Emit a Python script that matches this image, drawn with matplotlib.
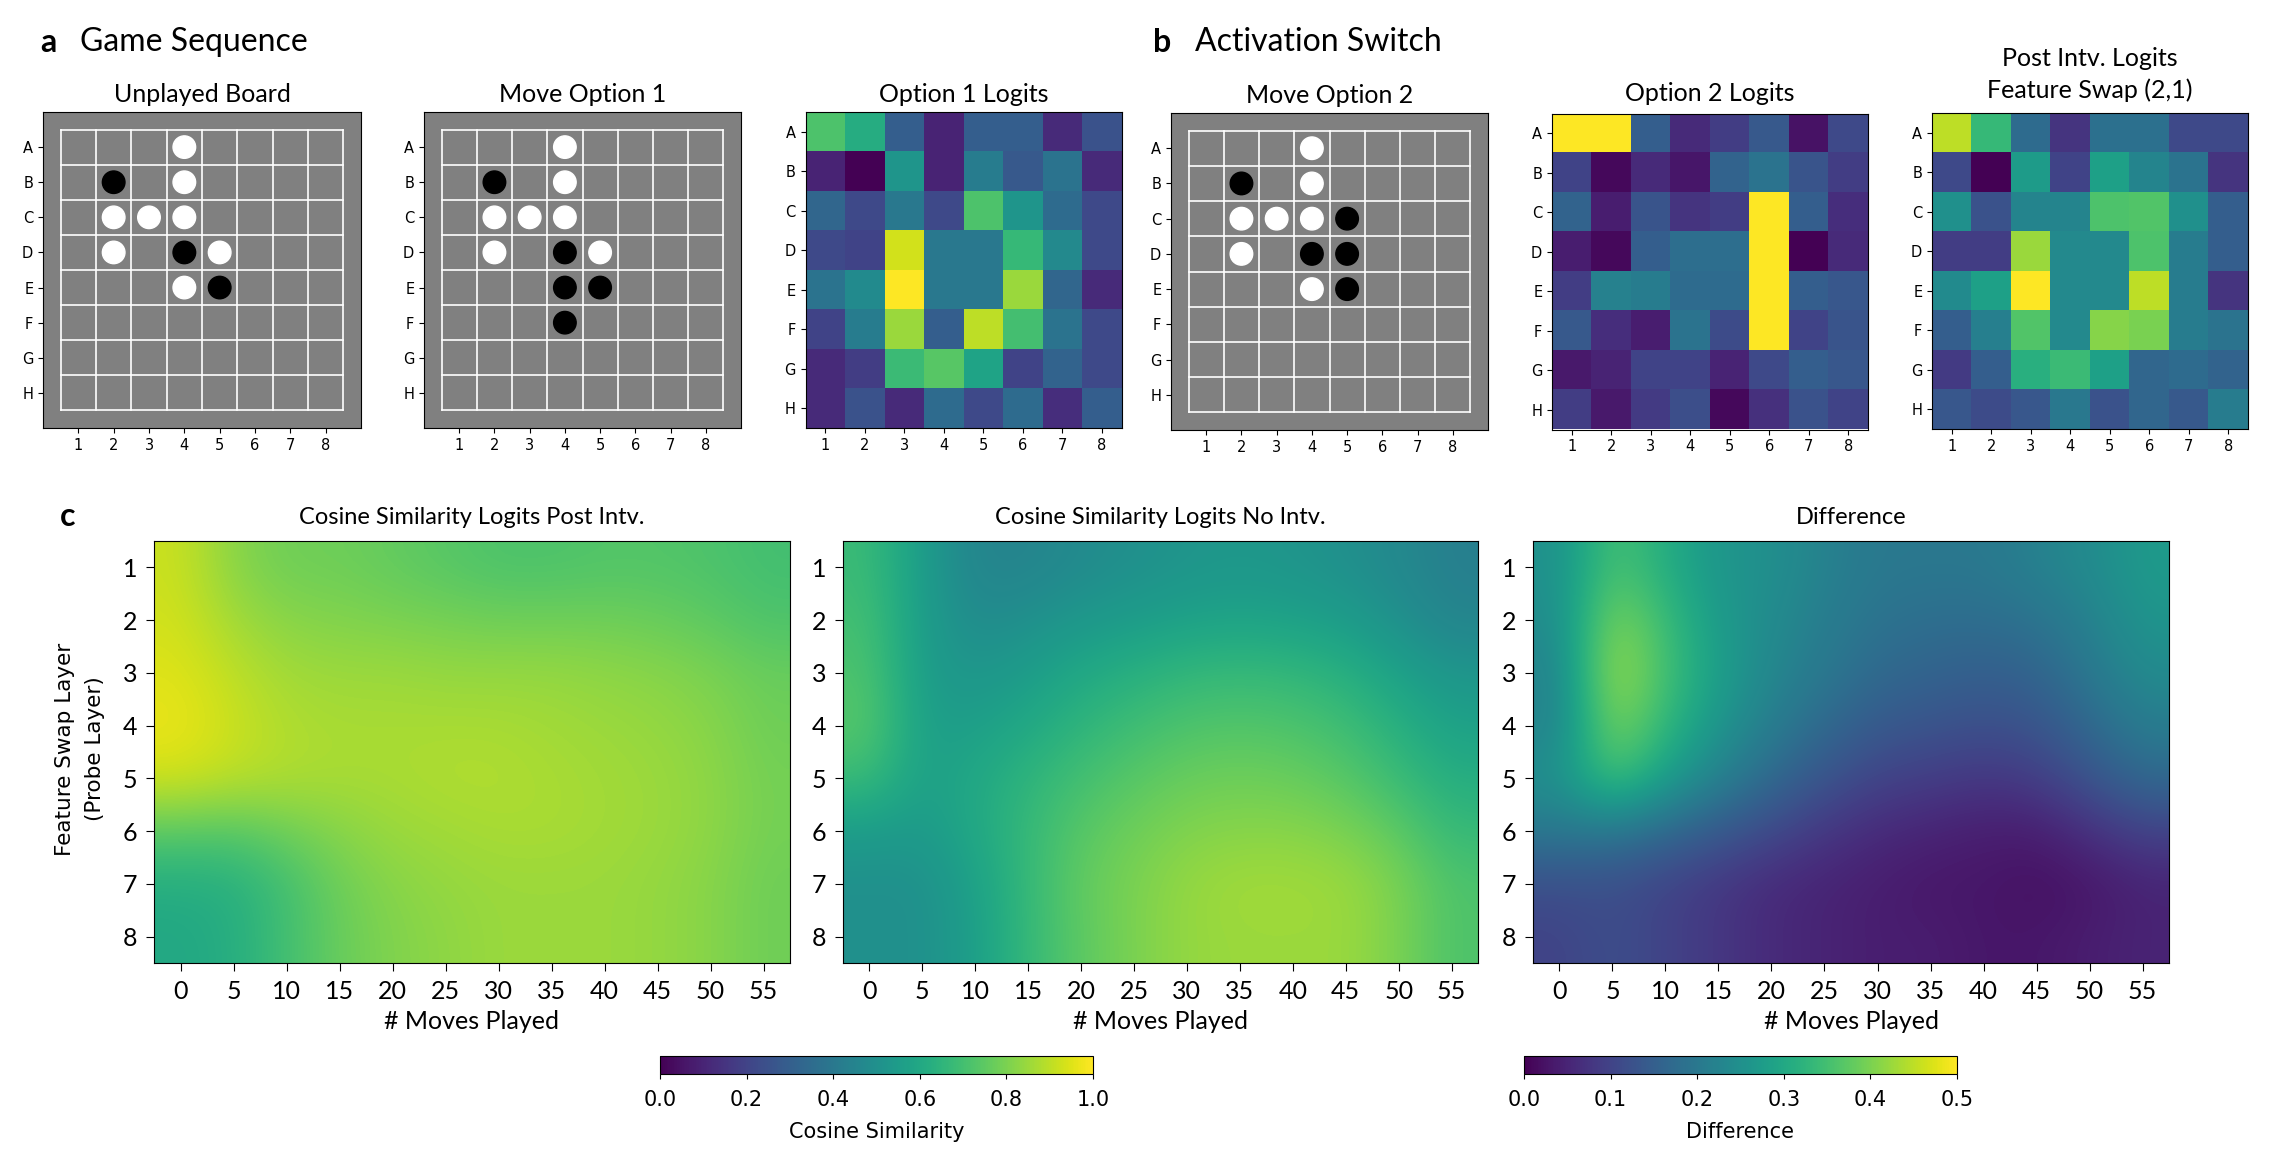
import numpy as np
import matplotlib.pyplot as plt
from matplotlib.patches import Circle

W, H = 2281, 1153
TFONT = ['Lato', 'DejaVu Sans']

rows = list("ABCDEFGH")
cols = ["1", "2", "3", "4", "5", "6", "7", "8"]

# board states
unplayed_white = ["A4", "B4", "C2", "C3", "C4", "D2", "D5", "E4"]
unplayed_black = ["B2", "D4", "E5"]
opt1_white = ["A4", "B4", "C2", "C3", "C4", "D2", "D5"]
opt1_black = ["B2", "D4", "E4", "E5", "F4"]
opt2_white = ["A4", "B4", "C2", "C3", "C4", "D2", "E4"]
opt2_black = ["B2", "C5", "D4", "D5", "E5"]

# normalised logits, rows A-H, cols 1-8
opt1_logits = [
    [0.72, 0.62, 0.30, 0.10, 0.30, 0.30, 0.12, 0.25],
    [0.10, 0.00, 0.52, 0.10, 0.42, 0.28, 0.38, 0.12],
    [0.33, 0.22, 0.40, 0.22, 0.72, 0.52, 0.35, 0.22],
    [0.22, 0.20, 0.93, 0.40, 0.40, 0.67, 0.47, 0.22],
    [0.38, 0.48, 1.00, 0.40, 0.40, 0.85, 0.33, 0.12],
    [0.20, 0.42, 0.85, 0.30, 0.90, 0.70, 0.38, 0.22],
    [0.12, 0.18, 0.68, 0.74, 0.58, 0.20, 0.32, 0.22],
    [0.12, 0.25, 0.12, 0.35, 0.22, 0.35, 0.13, 0.30],
]
opt2_logits = [
    [1.00, 1.00, 0.30, 0.12, 0.18, 0.28, 0.05, 0.22],
    [0.20, 0.02, 0.12, 0.06, 0.32, 0.38, 0.26, 0.18],
    [0.32, 0.08, 0.26, 0.15, 0.18, 1.00, 0.30, 0.13],
    [0.08, 0.02, 0.30, 0.36, 0.36, 1.00, 0.00, 0.12],
    [0.18, 0.44, 0.42, 0.35, 0.35, 1.00, 0.30, 0.27],
    [0.28, 0.13, 0.08, 0.38, 0.23, 1.00, 0.20, 0.26],
    [0.07, 0.10, 0.20, 0.20, 0.10, 0.22, 0.30, 0.27],
    [0.18, 0.07, 0.17, 0.24, 0.02, 0.14, 0.25, 0.20],
]
post_logits = [
    [0.90, 0.67, 0.35, 0.15, 0.37, 0.37, 0.22, 0.22],
    [0.22, 0.00, 0.55, 0.20, 0.57, 0.45, 0.38, 0.15],
    [0.50, 0.25, 0.45, 0.45, 0.72, 0.73, 0.50, 0.30],
    [0.18, 0.18, 0.85, 0.47, 0.47, 0.72, 0.42, 0.30],
    [0.48, 0.57, 1.00, 0.47, 0.47, 0.90, 0.42, 0.15],
    [0.30, 0.43, 0.73, 0.47, 0.82, 0.80, 0.42, 0.38],
    [0.17, 0.30, 0.63, 0.68, 0.57, 0.33, 0.35, 0.32],
    [0.27, 0.23, 0.27, 0.40, 0.25, 0.33, 0.28, 0.42],
]

# cosine similarity, layers 1-8 x moves 0,5,...,55
moves = list(range(0, 60, 5))
layers = list(range(1, 9))
cos_post = [
    [0.92, 0.82, 0.78, 0.78, 0.76, 0.74, 0.72, 0.72, 0.73, 0.73, 0.72, 0.70],
    [0.93, 0.86, 0.82, 0.81, 0.80, 0.79, 0.78, 0.78, 0.78, 0.77, 0.75, 0.72],
    [0.95, 0.90, 0.86, 0.85, 0.85, 0.84, 0.84, 0.84, 0.83, 0.82, 0.80, 0.77],
    [0.97, 0.92, 0.88, 0.87, 0.87, 0.87, 0.87, 0.86, 0.85, 0.84, 0.82, 0.78],
    [0.93, 0.90, 0.88, 0.87, 0.87, 0.88, 0.88, 0.87, 0.86, 0.85, 0.83, 0.79],
    [0.75, 0.74, 0.78, 0.82, 0.85, 0.86, 0.87, 0.87, 0.86, 0.85, 0.83, 0.79],
    [0.62, 0.63, 0.70, 0.78, 0.82, 0.84, 0.85, 0.85, 0.85, 0.84, 0.82, 0.78],
    [0.60, 0.62, 0.70, 0.77, 0.81, 0.83, 0.85, 0.85, 0.85, 0.84, 0.82, 0.78],
]
cos_none = [
    [0.68, 0.55, 0.45, 0.45, 0.48, 0.50, 0.52, 0.53, 0.52, 0.50, 0.47, 0.43],
    [0.70, 0.55, 0.48, 0.50, 0.53, 0.55, 0.57, 0.58, 0.57, 0.55, 0.50, 0.45],
    [0.72, 0.55, 0.52, 0.55, 0.60, 0.63, 0.66, 0.67, 0.66, 0.63, 0.57, 0.52],
    [0.74, 0.56, 0.56, 0.60, 0.65, 0.69, 0.72, 0.73, 0.72, 0.69, 0.63, 0.57],
    [0.68, 0.56, 0.60, 0.65, 0.70, 0.74, 0.77, 0.78, 0.77, 0.74, 0.68, 0.62],
    [0.55, 0.54, 0.60, 0.67, 0.74, 0.78, 0.81, 0.82, 0.82, 0.80, 0.75, 0.67],
    [0.50, 0.50, 0.57, 0.67, 0.76, 0.80, 0.84, 0.86, 0.86, 0.85, 0.80, 0.72],
    [0.50, 0.50, 0.56, 0.67, 0.75, 0.80, 0.84, 0.85, 0.85, 0.85, 0.80, 0.72],
]
cos_diff = [
    [0.25, 0.36, 0.31, 0.26, 0.25, 0.22, 0.20, 0.20, 0.20, 0.22, 0.24, 0.27],
    [0.24, 0.41, 0.34, 0.27, 0.24, 0.21, 0.19, 0.18, 0.18, 0.19, 0.22, 0.26],
    [0.22, 0.44, 0.35, 0.28, 0.23, 0.20, 0.17, 0.16, 0.15, 0.16, 0.20, 0.24],
    [0.22, 0.41, 0.33, 0.26, 0.21, 0.17, 0.14, 0.13, 0.12, 0.13, 0.17, 0.21],
    [0.25, 0.36, 0.28, 0.22, 0.17, 0.13, 0.10, 0.09, 0.08, 0.09, 0.13, 0.17],
    [0.20, 0.20, 0.17, 0.14, 0.11, 0.08, 0.06, 0.05, 0.04, 0.04, 0.07, 0.10],
    [0.12, 0.12, 0.10, 0.08, 0.06, 0.05, 0.04, 0.03, 0.03, 0.02, 0.03, 0.05],
    [0.10, 0.12, 0.10, 0.08, 0.06, 0.05, 0.04, 0.04, 0.03, 0.03, 0.04, 0.05],
]

fig = plt.figure(figsize=(W / 100, H / 100), dpi=100)


def px_axes(l, t, r, b):
    return fig.add_axes([l / W, 1 - b / H, (r - l) / W, (b - t) / H])


def square(name):
    return int(name[1]), rows.index(name[0]) + 1


def draw_board(ax, white, black, title):
    ax.set_facecolor('#808080')
    ax.set_xlim(0, 9)
    ax.set_ylim(9, 0)
    for k in np.arange(0.5, 9, 1):
        ax.plot([0.5, 8.5], [k, k], color='white', lw=1.2)
        ax.plot([k, k], [0.5, 8.5], color='white', lw=1.2)
    for sq in white:
        ax.add_patch(Circle(square(sq), 0.32, color='white'))
    for sq in black:
        ax.add_patch(Circle(square(sq), 0.32, color='black'))
    ax.set_xticks(range(1, 9))
    ax.set_xticklabels(cols)
    ax.set_yticks(range(1, 9))
    ax.set_yticklabels(rows)
    ax.tick_params(labelsize=10.5)
    ax.set_title(title, fontfamily=TFONT, fontsize=18, pad=7)


def draw_logits(ax, data, title, ls=1.2, pad=7):
    ax.imshow(np.array(data), cmap='viridis')
    ax.set_xticks(range(8))
    ax.set_xticklabels(cols)
    ax.set_yticks(range(8))
    ax.set_yticklabels(rows)
    ax.tick_params(labelsize=10.5)
    ax.set_title(title, fontfamily=TFONT, fontsize=18, pad=pad, linespacing=ls)


draw_board(px_axes(43, 112, 361, 428), unplayed_white, unplayed_black, "Unplayed Board")
draw_board(px_axes(424, 112, 741, 428), opt1_white, opt1_black, "Move Option 1")
draw_logits(px_axes(805, 112, 1122, 428), opt1_logits, "Option 1 Logits")
draw_board(px_axes(1171, 113, 1488, 430), opt2_white, opt2_black, "Move Option 2")
draw_logits(px_axes(1552, 113, 1868, 430), opt2_logits, "Option 2 Logits", pad=9)
draw_logits(px_axes(1932, 112, 2248, 430), post_logits, "Post Intv. Logits\nFeature Swap (2,1)",
            ls=1.4, pad=11)

fig.text(40 / W, 1 - 42 / H, "a", fontfamily=TFONT, fontsize=23, fontweight='bold', va='center')
fig.text(80 / W, 1 - 42 / H, "Game Sequence", fontfamily=TFONT, fontsize=23, va='center')
fig.text(1153 / W, 1 - 42 / H, "b", fontfamily=TFONT, fontsize=23, fontweight='bold', va='center')
fig.text(1195 / W, 1 - 42 / H, "Activation Switch", fontfamily=TFONT, fontsize=23, va='center')
fig.text(60 / W, 1 - 516 / H, "c", fontfamily=TFONT, fontsize=23, fontweight='bold', va='center')

bottom = [
    ((154, 541, 790, 963), cos_post, 1.0, "Cosine Similarity Logits Post Intv."),
    ((843, 541, 1478, 963), cos_none, 1.0, "Cosine Similarity Logits No Intv."),
    ((1533, 541, 2169, 963), cos_diff, 0.5, "Difference"),
]
ims = []
for box, data, vmax, title in bottom:
    ax = px_axes(*box)
    im = ax.imshow(np.array(data), cmap='viridis', vmin=0, vmax=vmax, aspect='auto',
                   interpolation='bicubic', extent=[-2.5, 57.5, 8.5, 0.5])
    ims.append(im)
    ax.set_xticks(moves)
    ax.set_yticks(layers)
    ax.tick_params(length=6, pad=6)
    for lab in ax.get_xticklabels() + ax.get_yticklabels():
        lab.set_fontfamily(TFONT)
        lab.set_fontsize(18)
    ax.set_xlabel("# Moves Played", fontfamily=TFONT, fontsize=18, labelpad=5)
    ax.set_title(title, fontfamily=TFONT, fontsize=17, pad=12)

fig.text(80 / W, 1 - 749 / H, "Feature Swap Layer\n(Probe Layer)", rotation=90,
         fontsize=15.5, ha='center', va='center', multialignment='center', linespacing=1.6)

cax1 = px_axes(660, 1056, 1093, 1074)
cb1 = fig.colorbar(ims[0], cax=cax1, orientation='horizontal')
cb1.set_ticks([0.0, 0.2, 0.4, 0.6, 0.8, 1.0])
cb1.ax.tick_params(labelsize=15, pad=8)
cb1.set_label("Cosine Similarity", fontsize=15, labelpad=9)

cax2 = px_axes(1524, 1056, 1957, 1074)
cb2 = fig.colorbar(ims[2], cax=cax2, orientation='horizontal')
cb2.set_ticks([0.0, 0.1, 0.2, 0.3, 0.4, 0.5])
cb2.ax.tick_params(labelsize=15, pad=8)
cb2.set_label("Difference", fontsize=15, labelpad=9)

fig.savefig("out.png", dpi=100)
